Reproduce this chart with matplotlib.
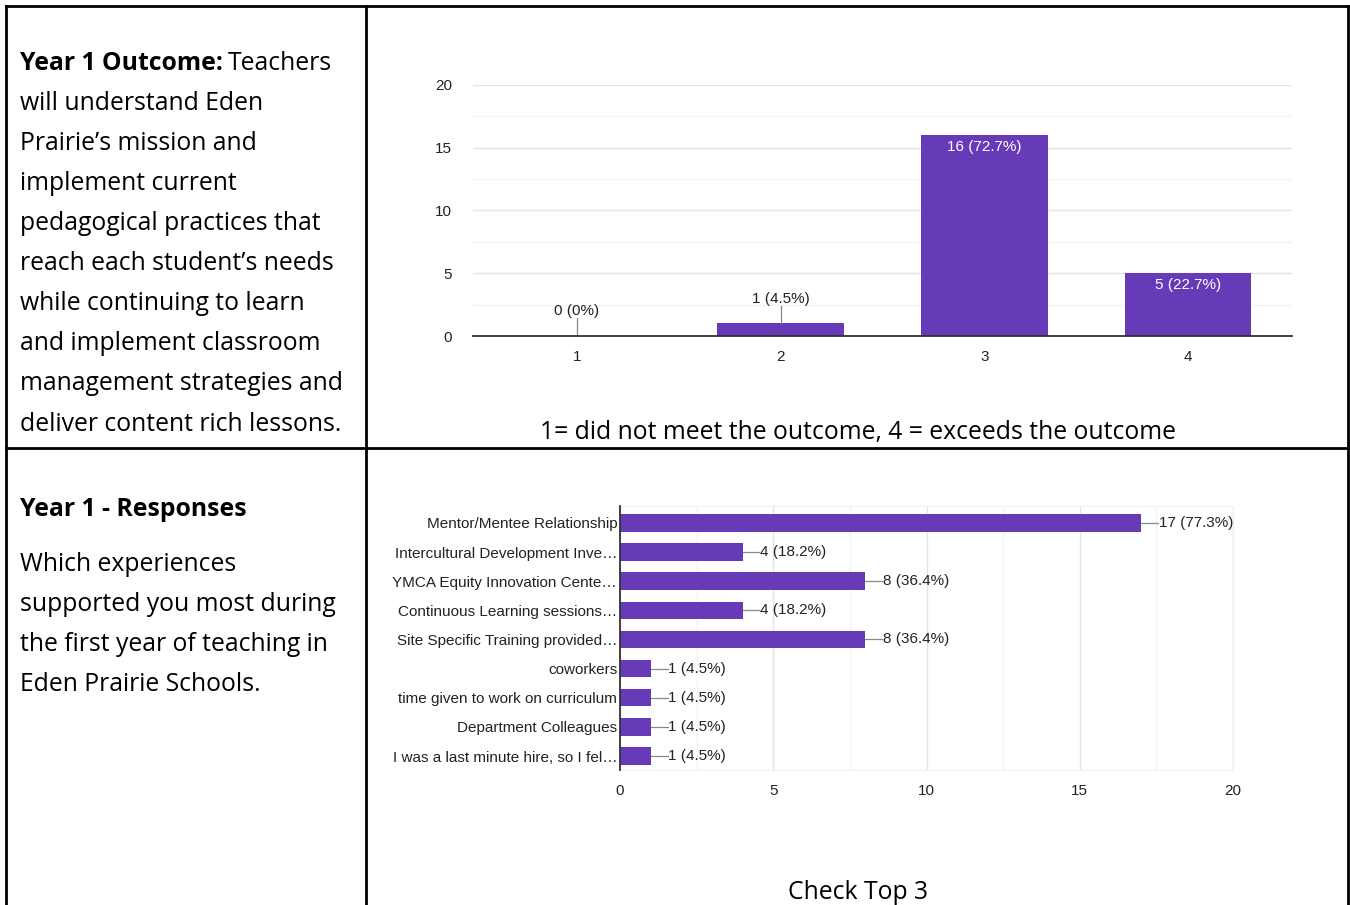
import matplotlib.pyplot as plt
from matplotlib.lines import Line2D

# data for the two survey charts
ratings = ['1', '2', '3', '4']
rating_counts = [0, 1, 16, 5]
rating_pcts = ['0%', '4.5%', '72.7%', '22.7%']

experiences = [
    'Mentor/Mentee Relationship',
    'Intercultural Development Inve…',
    'YMCA Equity Innovation Cente…',
    'Continuous Learning sessions…',
    'Site Specific Training provided…',
    'coworkers',
    'time given to work on curriculum',
    'Department Colleagues',
    'I was a last minute hire, so I fel…',
]
experience_counts = [17, 4, 8, 4, 8, 1, 1, 1, 1]
experience_pcts = ['77.3%', '18.2%', '36.4%', '18.2%', '36.4%', '4.5%', '4.5%', '4.5%', '4.5%']

W, H = 1350, 905
purple = '#673ab7'
chart_font = 'Liberation Sans'
doc_font = 'Open Sans'
doc_size = 17.8
chart_size = 11

fig = plt.figure(figsize=(W / 100, H / 100), dpi=100)


def fx(px):
    return px / W


def fy(py):
    return 1 - py / H


# table borders
for x0, y0, x1, y1 in [(6, 6, 1348, 6), (6, 6, 6, 905), (366, 6, 366, 905),
                       (1348, 6, 1348, 905), (6, 448, 1348, 448)]:
    fig.add_artist(Line2D([fx(x0), fx(x1)], [fy(y0), fy(y1)], color='black', lw=2.0))

# left column text, top row
lines_top = ['will understand Eden', 'Prairie’s mission and', 'implement current',
             'pedagogical practices that', 'reach each student’s needs',
             'while continuing to learn', 'and implement classroom',
             'management strategies and', 'deliver content rich lessons.']
t = fig.text(fx(20), fy(64), 'Year 1 Outcome:', family=doc_font, fontsize=doc_size,
             fontweight='bold', va='center')
fig.canvas.draw()
bb = t.get_window_extent()
fig.text(bb.x1 / W + fx(5), fy(64), 'Teachers', family=doc_font, fontsize=doc_size, va='center')
for i, s in enumerate(lines_top):
    fig.text(fx(20), fy(104 + 40 * i), s, family=doc_font, fontsize=doc_size, va='center')

# left column text, bottom row
fig.text(fx(20), fy(509), 'Year 1 - Responses', family=doc_font, fontsize=doc_size,
         fontweight='bold', va='center')
lines_bot = ['Which experiences', 'supported you most during',
             'the first year of teaching in', 'Eden Prairie Schools.']
for i, s in enumerate(lines_bot):
    fig.text(fx(20), fy(564 + 40 * i), s, family=doc_font, fontsize=doc_size, va='center')

# top chart: vertical bars
ax1 = fig.add_axes([fx(473), fy(336), fx(1292) - fx(473), fy(85) - fy(336)])
xpos = list(range(len(ratings)))
ax1.bar(xpos, rating_counts, width=0.62, color=purple, zorder=3)
ax1.set_xlim(-0.51, 3.51)
ax1.set_ylim(0, 20)
ax1.set_yticks([0, 5, 10, 15, 20])
ax1.set_yticks([2.5, 7.5, 12.5, 17.5], minor=True)
ax1.set_xticks(xpos)
ax1.set_xticklabels(ratings)
ax1.grid(axis='y', which='major', color='#e4e4e4', lw=1.0, zorder=0)
ax1.grid(axis='y', which='minor', color='#f3f3f3', lw=1.0, zorder=0)
for side in ['top', 'right', 'left']:
    ax1.spines[side].set_visible(False)
ax1.spines['bottom'].set_color('#333333')
ax1.spines['bottom'].set_linewidth(1.3)
ax1.spines['bottom'].set_zorder(4)
ax1.tick_params(axis='both', which='both', length=0, labelsize=chart_size, colors='#222222',
                labelfontfamily=chart_font)
ax1.tick_params(axis='x', pad=10)
ax1.tick_params(axis='y', pad=15)
for x, c, p in zip(xpos, rating_counts, rating_pcts):
    label = f'{c} ({p})'
    if c >= 3:
        ax1.text(x, c - 0.4, label, ha='center', va='top', color='white',
                 fontsize=chart_size, family=chart_font, zorder=5)
    else:
        ax1.plot([x, x], [c, c + 1.4], color='#888888', lw=0.9, zorder=4)
        ax1.text(x, c + 1.4, label, ha='center', va='bottom', color='#222222',
                 fontsize=chart_size, family=chart_font, zorder=5)
fig.text(fx(858), fy(433), '1= did not meet the outcome, 4 = exceeds the outcome',
         family=doc_font, fontsize=doc_size, ha='center', va='center')

# bottom chart: horizontal bars
ax2 = fig.add_axes([fx(620), fy(770), fx(1233) - fx(620), fy(506) - fy(770)])
ypos = list(range(len(experiences)))
ax2.barh(ypos, experience_counts, height=0.6, color=purple, zorder=3)
ax2.set_xlim(0, 20)
ax2.set_ylim(len(experiences) - 0.52, -0.58)
ax2.set_xticks([0, 5, 10, 15, 20])
ax2.set_xticks([2.5, 7.5, 12.5, 17.5], minor=True)
ax2.set_yticks(ypos)
ax2.set_yticklabels(experiences)
ax2.grid(axis='x', which='major', color='#e4e4e4', lw=1.0, zorder=0)
ax2.grid(axis='x', which='minor', color='#f3f3f3', lw=1.0, zorder=0)
for side in ['top', 'right', 'bottom']:
    ax2.spines[side].set_color('#f0f0f0')
ax2.spines['left'].set_color('#333333')
ax2.spines['left'].set_linewidth(1.3)
ax2.spines['left'].set_zorder(4)
ax2.tick_params(axis='both', which='both', length=0, labelsize=chart_size, colors='#222222',
                labelfontfamily=chart_font)
ax2.tick_params(axis='y', pad=2)
ax2.tick_params(axis='x', pad=10)
for y, c, p in zip(ypos, experience_counts, experience_pcts):
    ax2.plot([c, c + 0.55], [y, y], color='#888888', lw=0.9, zorder=4)
    ax2.text(c + 0.58, y, f'{c} ({p})', ha='left', va='center', color='#222222',
             fontsize=chart_size, family=chart_font, zorder=5)
fig.text(fx(858), fy(892), 'Check Top 3', family=doc_font, fontsize=doc_size,
         ha='center', va='center')

fig.savefig('out.png', dpi=100, facecolor='white')
